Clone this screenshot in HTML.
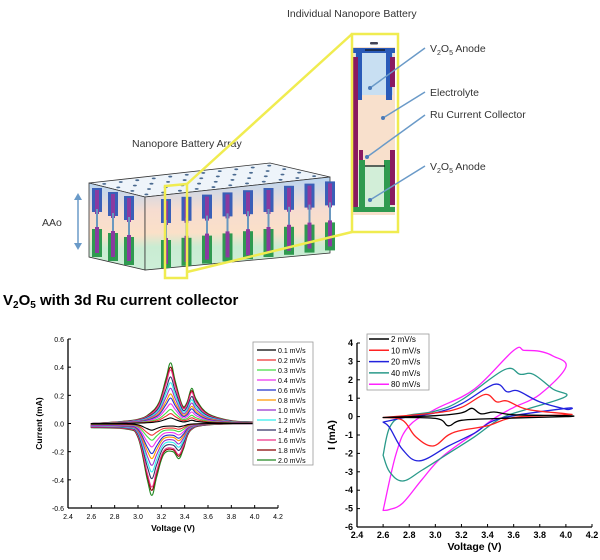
<!DOCTYPE html>
<html><head><meta charset="utf-8"><style>
body{margin:0;background:#fff;}
svg{display:block;font-family:"Liberation Sans",sans-serif;}
</style></head><body>
<svg id="s" width="600" height="560" viewBox="0 0 600 560">
<g id="diagram"></g>
<text x="3" y="305" font-size="15" font-weight="bold">V<tspan font-size="10" dy="3">2</tspan><tspan dy="-3">O</tspan><tspan font-size="10" dy="3">5</tspan><tspan dy="-3"> with 3d Ru current collector</tspan></text>
<g id="left"></g>
<g id="right"></g>
</svg>
<script>
const NS="http://www.w3.org/2000/svg";
function mk(p,t,a,txt){const e=document.createElementNS(NS,t);for(const k in a)e.setAttribute(k,a[k]);if(txt!==undefined)e.textContent=txt;p.appendChild(e);return e;}

// ---------- Left chart data ----------
const leftLabels=["0.1 mV/s","0.2 mV/s","0.3 mV/s","0.4 mV/s","0.6 mV/s","0.8 mV/s","1.0 mV/s","1.2 mV/s","1.4 mV/s","1.6 mV/s","1.8 mV/s","2.0 mV/s"];
const leftColors=["#000","#e33","#4d4","#e3e","#23c","#f90","#93c","#3ee","#336","#e38","#800","#282"];
const leftPeaks=[0.04,0.07,0.10,0.14,0.18,0.21,0.25,0.29,0.33,0.38,0.40,0.43];
const leftBaseV=[2.6,2.8,3.0,3.1,3.18,3.24,3.28,3.32,3.38,3.42,3.46,3.5,3.6,3.8,4.0,4.0,3.6,3.45,3.39,3.35,3.3,3.22,3.16,3.12,3.08,3.0,2.9,2.6];
const leftBaseI=[0.0,0.01,0.03,0.07,0.15,0.32,0.43,0.30,0.13,0.15,0.25,0.17,0.07,0.02,0.01,0.0,-0.01,-0.05,-0.18,-0.25,-0.20,-0.22,-0.38,-0.51,-0.40,-0.10,-0.04,-0.03];
const leftXTicks=[2.4,2.6,2.8,3.0,3.2,3.4,3.6,3.8,4.0,4.2];
const leftYTicks=[-0.6,-0.4,-0.2,0.0,0.2,0.4,0.6];

// ---------- Right chart data ----------
const rightLabels=["2 mV/s","10 mV/s","20 mV/s","40 mV/s","80 mV/s"];
const rightColors=["#000","#f22","#22d","#2a9a8a","#f2f"];
const rightV=[
[2.6,3.0,3.2,3.28,3.35,3.45,3.6,4.0,4.0,3.5,3.2,3.1,3.0,2.6],
[2.6,3.0,3.2,3.38,3.47,3.55,3.7,4.0,4.0,3.6,3.4,3.2,3.1,2.98,2.85,2.75,2.6],
[2.6,2.8,3.0,3.2,3.45,3.55,3.63,3.8,4.0,4.0,3.5,3.3,3.1,2.88,2.75,2.65,2.6],
[2.6,2.65,2.75,3.0,3.2,3.53,3.65,3.75,3.9,4.0,3.7,3.5,3.3,3.1,2.9,2.75,2.65,2.6],
[2.6,2.7,2.8,3.0,3.3,3.6,3.68,3.8,3.9,4.0,3.8,3.6,3.45,3.3,3.05,2.9,2.75,2.65,2.6]];
const rightI=[
[-0.05,0.05,0.2,0.45,0.15,0.25,0.1,0.05,0,-0.1,-0.2,-0.5,-0.1,-0.05],
[-0.05,0.2,0.5,1.2,0.8,0.85,0.4,0.15,0.1,-0.05,-0.5,-0.75,-1.0,-1.6,-1.1,-0.2,-0.05],
[-0.3,0.0,0.2,0.7,1.75,1.35,1.4,0.8,0.4,0.45,-0.1,-0.9,-1.6,-2.4,-1.8,-0.6,-0.3],
[-2.1,-0.6,0.0,0.3,0.9,2.55,2.3,2.3,1.5,1.1,0.4,-0.1,-1.1,-2.0,-2.9,-3.5,-3.0,-2.1],
[-5.1,-2.0,-0.5,0.4,1.5,3.6,3.6,3.55,3.3,2.7,1.2,0.5,-0.1,-0.9,-2.2,-3.4,-4.7,-5.05,-5.1]];
const rightXTicks=[2.4,2.6,2.8,3.0,3.2,3.4,3.6,3.8,4.0,4.2];
const rightYTicks=[-6,-5,-4,-3,-2,-1,0,1,2,3,4];

function smooth(P){
  let d="M"+P[0][0]+","+P[0][1];
  for(let i=0;i<P.length-1;i++){
    const p0=P[Math.max(0,i-1)],p1=P[i],p2=P[i+1],p3=P[Math.min(P.length-1,i+2)];
    const t=0.18;
    const c1=[p1[0]+(p2[0]-p0[0])*t,p1[1]+(p2[1]-p0[1])*t];
    const c2=[p2[0]-(p3[0]-p1[0])*t,p2[1]-(p3[1]-p1[1])*t];
    d+=" C"+c1[0].toFixed(1)+","+c1[1].toFixed(1)+" "+c2[0].toFixed(1)+","+c2[1].toFixed(1)+" "+p2[0].toFixed(1)+","+p2[1].toFixed(1);
  }
  return d;
}

function axes(g,x0,x1,y0,y1,xmin,xmax,ymin,ymax,xt,yt,fmtY,fs,xtitle,ytitle,bold){
  const sx=v=>x0+(v-xmin)/(xmax-xmin)*(x1-x0);
  const sy=v=>y1-(v-ymin)/(ymax-ymin)*(y1-y0);
  let e=mk(g,"line",{x1:x0,y1:y0,x2:x0,y2:y1,stroke:"#000","stroke-width":1.3});
  
  e=mk(g,"line",{x1:x0,y1:y1,x2:x1,y2:y1,stroke:"#000","stroke-width":1.3});
  
  xt.forEach(v=>{mk(g,"line",{x1:sx(v),y1:y1,x2:sx(v),y2:y1-3,stroke:"#000"});
    const t=mk(g,"text",{x:sx(v),y:y1+11,"font-size":fs,"text-anchor":"middle","font-weight":bold?"bold":"normal"},v.toFixed(1));
    });
  yt.forEach(v=>{mk(g,"line",{x1:x0,y1:sy(v),x2:x0+3,y2:sy(v),stroke:"#000"});
    const t=mk(g,"text",{x:x0-4,y:sy(v)+3,"font-size":fs,"text-anchor":"end","font-weight":bold?"bold":"normal"},fmtY(v));
    });
  let t=mk(g,"text",{x:(x0+x1)/2,y:y1+23,"font-size":fs+1.5,"font-weight":"bold","text-anchor":"middle"},xtitle);
  
  t=mk(g,"text",{x:0,y:0,"font-size":fs+1.5,"font-weight":"bold","text-anchor":"middle",transform:`translate(${x0-(bold?22:26)},${(y0+y1)/2}) rotate(-90)`},ytitle);
  
  return [sx,sy];
}

// Left
(function(){
  const g=document.getElementById("left");
  const [sx,sy]=axes(g,68,278,339,508,2.4,4.2,-0.6,0.6,leftXTicks,leftYTicks,v=>v.toFixed(1),7,"Voltage (V)","Current (mA)",false);
  for(let s=leftPeaks.length-1;s>=0;s--){
    const k=leftPeaks[s]/0.43;
    const P=leftBaseV.map((v,i)=>[sx(v),sy(leftBaseI[i]*k)]);
    const p=mk(g,"path",{d:smooth(P)+" Z",fill:"none",stroke:leftColors[s],"stroke-width":1.1,"stroke-linejoin":"round"});
    
    
  }
  const lg=mk(g,"g",{});
  
  mk(lg,"rect",{x:253,y:342,width:60,height:123,fill:"#fff",stroke:"#999","stroke-width":0.8});
  leftLabels.forEach((l,i)=>{const y=350+i*10;
    mk(lg,"line",{x1:257,y1:y,x2:276,y2:y,stroke:leftColors[i],"stroke-width":1.3});
    const t=mk(lg,"text",{x:278,y:y+3,"font-size":7},l);
    });
})();

// Right
(function(){
  const g=document.getElementById("right");
  const [sx,sy]=axes(g,357,592,343,527,2.4,4.2,-6,4,rightXTicks,rightYTicks,v=>String(v),9,"Voltage (V)","I (mA)",true);
  for(let s=rightV.length-1;s>=0;s--){
    const P=rightV[s].map((v,i)=>[sx(v),sy(rightI[s][i])]);
    const p=mk(g,"path",{d:smooth(P)+" Z",fill:"none",stroke:rightColors[s],"stroke-width":1.3,"stroke-linejoin":"round"});
    
    
  }
  const lg=mk(g,"g",{});
  
  mk(lg,"rect",{x:367,y:334,width:62,height:56,fill:"#fff",stroke:"#999","stroke-width":0.8});
  rightLabels.forEach((l,i)=>{const y=339+i*11.3;
    mk(lg,"line",{x1:369,y1:y,x2:389,y2:y,stroke:rightColors[i],"stroke-width":1.5});
    const t=mk(lg,"text",{x:391,y:y+3,"font-size":8},l);
    });
})();

// Diagram
(function(){
  const g=document.getElementById("diagram");
  function txt(x,y,s,name,fs){const t=mk(g,"text",{x:x,y:y,"font-size":fs||10.5,fill:"#333"},s);return t;}
  txt(287,17,"Individual Nanopore Battery","individual-battery-label");
  txt(132,147,"Nanopore Battery Array","array-label");
  txt(42,226,"AAo","aao-label");
  const v1=txt(430,52,"V","anode-top-label");v1.innerHTML='V<tspan font-size="7" dy="3">2</tspan><tspan dy="-3">O</tspan><tspan font-size="7" dy="3">5</tspan><tspan dy="-3"> Anode</tspan>';
  txt(430,96,"Electrolyte","electrolyte-label");
  txt(430,118,"Ru Current Collector","collector-label");
  const v2=txt(430,170,"V","anode-bottom-label");v2.innerHTML='V<tspan font-size="7" dy="3">2</tspan><tspan dy="-3">O</tspan><tspan font-size="7" dy="3">5</tspan><tspan dy="-3"> Anode</tspan>';
  mk(g,"line",{x1:78,y1:198,x2:78,y2:245,stroke:"#6a9ac8","stroke-width":1.5});
  mk(g,"polygon",{points:"74,200 82,200 78,193",fill:"#6a9ac8"});
  mk(g,"polygon",{points:"74,243 82,243 78,250",fill:"#6a9ac8"});
  const defs=mk(g,"defs",{});
  const lgd=mk(defs,"linearGradient",{id:"band",x1:0,y1:0,x2:0,y2:1});
  [["0","#b9d6f2"],["0.35","#f6dcd0"],["0.6","#fbe0c8"],["0.75","#c9ecd2"],["1","#cdeed8"]].forEach(s=>mk(lgd,"stop",{offset:s[0],"stop-color":s[1]}));
  mk(g,"polygon",{points:"89,183 270,163 330,177 145,197",fill:"#eef4fa",stroke:"#333","stroke-width":0.8});
  mk(g,"polygon",{points:"89,183 145,197 145,270 89,257",fill:"url(#band)",stroke:"#333","stroke-width":0.8});
  mk(g,"polygon",{points:"145,197 330,177 330,253 145,270",fill:"url(#band)",stroke:"#333","stroke-width":0.8});
  // dots on top face via bilinear interpolation
  const A=[89,183],B=[145,197],C=[330,177],D=[270,163];
  for(let r=0;r<4;r++)for(let c=0;c<11;c++){
    const u=(c+0.5)/11,v=(r+0.5)/4;
    const fx=A[0]+(B[0]-A[0])*v, fy=A[1]+(B[1]-A[1])*v;
    const bx=D[0]+(C[0]-D[0])*v, by=D[1]+(C[1]-D[1])*v;
    mk(g,"ellipse",{cx:fx+(bx-fx)*u,cy:fy+(by-fy)*u,rx:2,ry:0.9,fill:"#4a6a90"});
  }
  const poreXs=[];for(let i=0;i<3;i++)poreXs.push([96+i*16,187+i*4]);for(let i=0;i<9;i++)poreXs.push([165+i*20.5,198-i*2.2]);
  poreXs.forEach(([x,y])=>{
    mk(g,"rect",{x:x-4,y:y+1,width:10,height:24,fill:"#3a5fb8"});
    mk(g,"rect",{x:x-1,y:y+3,width:4,height:24,fill:"#8a3aa0"});
    mk(g,"rect",{x:x,y:y+22,width:2,height:20,fill:"#6a98c0"});
    mk(g,"rect",{x:x-4,y:y+42,width:10,height:28,fill:"#2f9a50"});
    mk(g,"rect",{x:x-1,y:y+40,width:4,height:26,fill:"#8a3aa0"});
  });
  mk(g,"rect",{x:353,y:47,width:42,height:168,fill:"#f8e0cc"});
  mk(g,"rect",{x:355,y:50,width:38,height:45,fill:"#c8dff2"});
  mk(g,"rect",{x:355,y:165,width:38,height:47,fill:"#d2eed8"});
  mk(g,"rect",{x:353,y:48,width:42,height:5,fill:"#2a5ab8"});
  mk(g,"rect",{x:356,y:52,width:6,height:48,fill:"#2a5ab8"});mk(g,"rect",{x:386,y:52,width:6,height:48,fill:"#2a5ab8"});
  mk(g,"rect",{x:353,y:57,width:5,height:150,fill:"#8a1a60"});mk(g,"rect",{x:390,y:57,width:5,height:30,fill:"#8a1a60"});
  mk(g,"rect",{x:390,y:150,width:5,height:55,fill:"#8a1a60"});mk(g,"rect",{x:359,y:150,width:4,height:18,fill:"#8a1a60"});
  mk(g,"rect",{x:359,y:160,width:6,height:50,fill:"#2f9a50"});mk(g,"rect",{x:384,y:160,width:6,height:50,fill:"#2f9a50"});
  mk(g,"rect",{x:353,y:207,width:42,height:5,fill:"#2f9a50"});
  mk(g,"line",{x1:365,y1:166,x2:385,y2:166,stroke:"#111","stroke-width":1.3});
  mk(g,"line",{x1:365,y1:50,x2:385,y2:50,stroke:"#111","stroke-width":1.3});
  mk(g,"rect",{x:370,y:42,width:8,height:2.5,rx:1,fill:"#445"});
  const yl={fill:"none",stroke:"#f0ec50","stroke-width":2.5};
  mk(g,"rect",Object.assign({x:352,y:34,width:46,height:198},yl));
  mk(g,"polygon",Object.assign({points:"165,186 187,184 187,278 165,278"},yl));
  mk(g,"line",Object.assign({x1:187,y1:184,x2:352,y2:34},yl));
  mk(g,"line",Object.assign({x1:187,y1:272,x2:352,y2:232},yl));
  [[425,48,370,88],[425,92,383,118],[425,115,367,157],[425,166,370,200]].forEach(a=>{
    mk(g,"line",{x1:a[0],y1:a[1],x2:a[2],y2:a[3],stroke:"#6a9ac8","stroke-width":1.5});
    mk(g,"circle",{cx:a[2],cy:a[3],r:2,fill:"#4a7ab8"});
  });
})();
</script>
</body></html>
